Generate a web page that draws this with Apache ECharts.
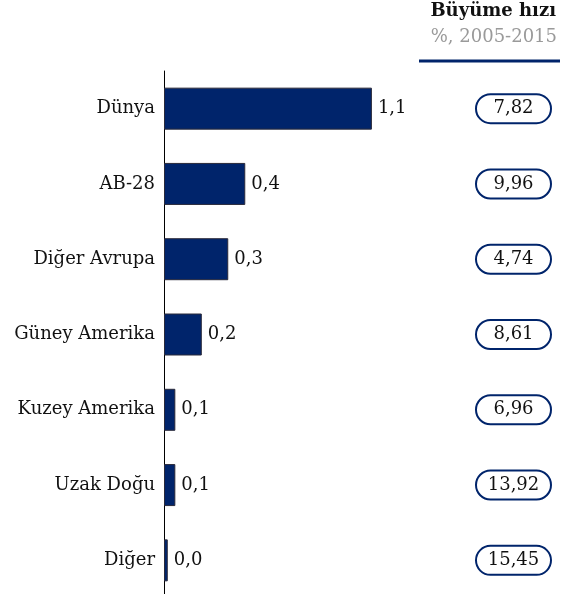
<!DOCTYPE html>
<html>
<head>
<meta charset="utf-8">
<script src="https://cdn.jsdelivr.net/npm/echarts@6/dist/echarts.min.js"></script>
<style>
  html, body { margin: 0; padding: 0; background: #fff; overflow: hidden; }
  #main { width: 561px; height: 600px; }
</style>
</head>
<body>
<div id="main"></div>
<script>
var regions = ['Dünya', 'AB-28', 'Diğer Avrupa', 'Güney Amerika', 'Kuzey Amerika', 'Uzak Doğu', 'Diğer'];
var shares = [1.1, 0.43, 0.34, 0.2, 0.06, 0.06, 0.02];
var growth = [7.82, 9.96, 4.74, 8.61, 6.96, 13.92, 15.45];

var navy = '#00246b';
var font = 'DejaVu Serif';

var chart = echarts.init(document.getElementById('main'));

function comma(v, d) {
  return v.toFixed(d).replace('.', ',');
}

var option = {
  animation: false,
  textStyle: { fontFamily: font },
  grid: [
    { left: 164, top: 71, width: 378, height: 527 },
    { left: 475, top: 71, width: 77, height: 527 }
  ],
  xAxis: [
    { gridIndex: 0, type: 'value', min: 0, max: 2, show: false },
    { gridIndex: 1, type: 'value', min: 0, max: 1, show: false }
  ],
  yAxis: [
    {
      gridIndex: 0,
      type: 'category',
      inverse: true,
      data: regions,
      axisLine: { show: true, lineStyle: { color: '#000', width: 1 } },
      axisTick: { show: false },
      axisLabel: { color: '#111', fontSize: 18, fontFamily: font, margin: 9 }
    },
    {
      gridIndex: 1,
      type: 'category',
      inverse: true,
      data: regions,
      show: false
    }
  ],
  series: [
    {
      type: 'bar',
      xAxisIndex: 0,
      yAxisIndex: 0,
      data: shares,
      barWidth: 42,
      itemStyle: { color: navy, borderColor: '#2a2a3a', borderWidth: 1 },
      label: {
        show: true,
        position: 'right',
        distance: 6,
        color: '#111',
        fontSize: 18,
        fontFamily: font,
        formatter: function (p) { return comma(p.value, 1); }
      }
    },
    {
      type: 'bar',
      xAxisIndex: 1,
      yAxisIndex: 1,
      data: growth.map(function (g) { return { value: 1, g: g }; }),
      barWidth: 31,
      itemStyle: { color: '#fff', borderColor: navy, borderWidth: 2, borderRadius: 15 },
      label: {
        show: true,
        position: 'inside',
        color: '#111',
        fontSize: 18,
        fontFamily: font,
        formatter: function (p) { return comma(growth[p.dataIndex], 2); }
      }
    }
  ],
  graphic: [
    {
      type: 'text', right: 5, top: 2,
      style: { text: 'Büyüme hızı', font: 'bold 18px "' + font + '"', fill: '#111' }
    },
    {
      type: 'text', right: 4, top: 28,
      style: { text: '%, 2005-2015', font: '18px "' + font + '"', fill: '#9a9a9a' }
    },
    {
      type: 'line',
      shape: { x1: 419, y1: 61, x2: 560, y2: 61 },
      style: { stroke: navy, lineWidth: 3 }
    }
  ]
};

chart.setOption(option);
</script>
</body>
</html>
